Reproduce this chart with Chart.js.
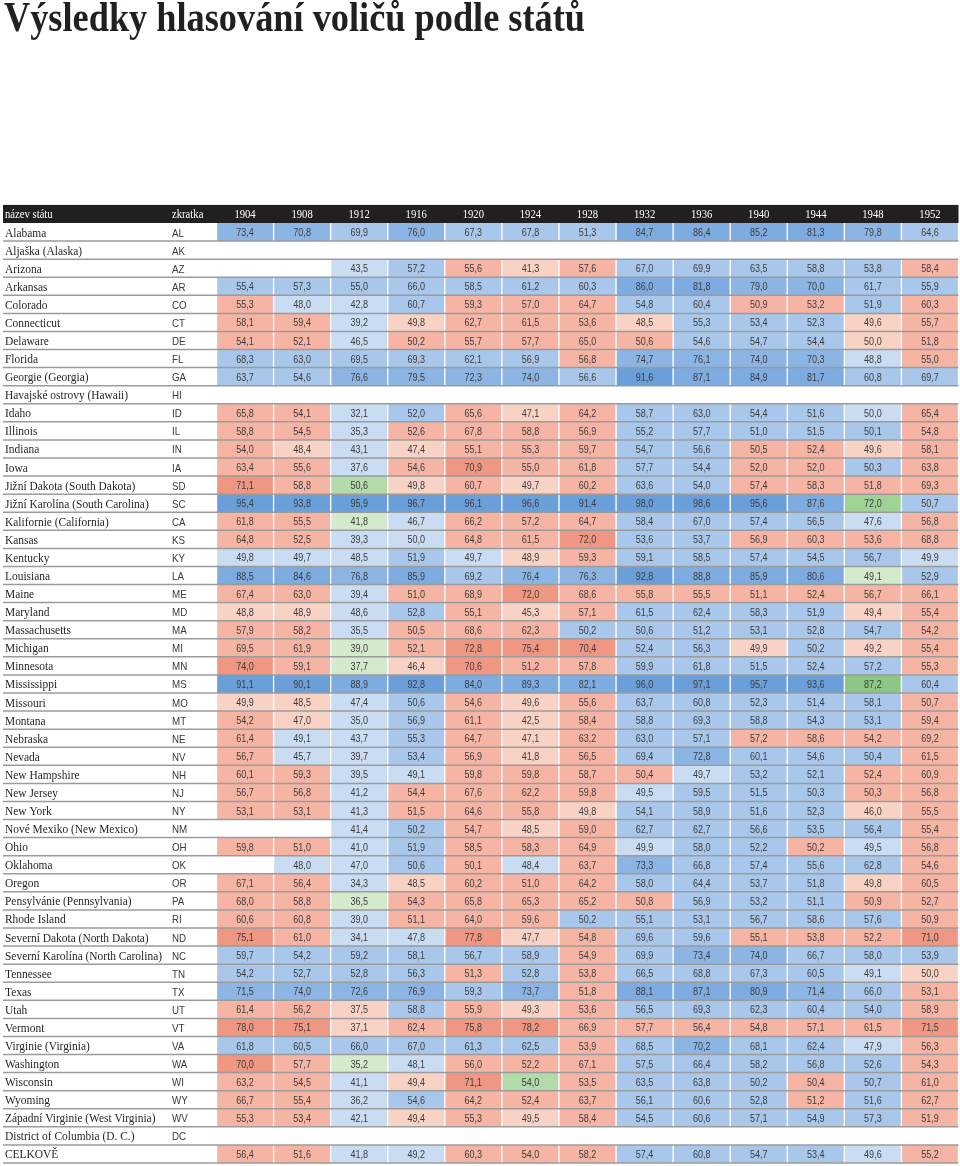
<!DOCTYPE html>
<html lang="cs">
<head>
<meta charset="utf-8">
<title>Výsledky hlasování voličů podle států</title>
<script src="https://cdn.jsdelivr.net/npm/chart.js@4.4.1/dist/chart.umd.min.js"></script>
<style>
  html, body { margin: 0; padding: 0; background: #fff; }
  canvas { display: block; }
</style>
</head>
<body>
<canvas id="grid" width="960" height="1166"></canvas>
<script>
const title = 'Výsledky hlasování voličů podle států';

const years = [1904, 1908, 1912, 1916, 1920, 1924, 1928, 1932, 1936, 1940, 1944, 1948, 1952];

const states = [
  'Alabama', 'Aljaška (Alaska)', 'Arizona', 'Arkansas', 'Colorado', 'Connecticut', 'Delaware',
  'Florida', 'Georgie (Georgia)', 'Havajské ostrovy (Hawaii)', 'Idaho', 'Illinois', 'Indiana', 'Iowa',
  'Jižní Dakota (South Dakota)', 'Jižní Karolína (South Carolina)', 'Kalifornie (California)', 'Kansas',
  'Kentucky', 'Louisiana', 'Maine', 'Maryland', 'Massachusetts', 'Michigan', 'Minnesota', 'Mississippi',
  'Missouri', 'Montana', 'Nebraska', 'Nevada', 'New Hampshire', 'New Jersey', 'New York',
  'Nové Mexiko (New Mexico)', 'Ohio', 'Oklahoma', 'Oregon', 'Pensylvánie (Pennsylvania)', 'Rhode Island',
  'Severní Dakota (North Dakota)', 'Severní Karolína (North Carolina)', 'Tennessee', 'Texas', 'Utah',
  'Vermont', 'Virginie (Virginia)', 'Washington', 'Wisconsin', 'Wyoming', 'Západní Virginie (West Virginia)',
  'District of Columbia (D. C.)', 'CELKOVĚ'
];

const abbrs = [
  'AL', 'AK', 'AZ', 'AR', 'CO', 'CT', 'DE', 'FL', 'GA', 'HI', 'ID', 'IL', 'IN', 'IA', 'SD', 'SC', 'CA', 'KS',
  'KY', 'LA', 'ME', 'MD', 'MA', 'MI', 'MN', 'MS', 'MO', 'MT', 'NE', 'NV', 'NH', 'NJ', 'NY', 'NM', 'OH', 'OK',
  'OR', 'PA', 'RI', 'ND', 'NC', 'TN', 'TX', 'UT', 'VT', 'VA', 'WA', 'WI', 'WY', 'WV', 'DC', ''
];

// winning share in %, one row per state, null = no vote
const results = [
  [73.4, 70.8, 69.9, 76.0, 67.3, 67.8, 51.3, 84.7, 86.4, 85.2, 81.3, 79.8, 64.6],
  [null, null, null, null, null, null, null, null, null, null, null, null, null],
  [null, null, 43.5, 57.2, 55.6, 41.3, 57.6, 67.0, 69.9, 63.5, 58.8, 53.8, 58.4],
  [55.4, 57.3, 55.0, 66.0, 58.5, 61.2, 60.3, 86.0, 81.8, 79.0, 70.0, 61.7, 55.9],
  [55.3, 48.0, 42.8, 60.7, 59.3, 57.0, 64.7, 54.8, 60.4, 50.9, 53.2, 51.9, 60.3],
  [58.1, 59.4, 39.2, 49.8, 62.7, 61.5, 53.6, 48.5, 55.3, 53.4, 52.3, 49.6, 55.7],
  [54.1, 52.1, 46.5, 50.2, 55.7, 57.7, 65.0, 50.6, 54.6, 54.7, 54.4, 50.0, 51.8],
  [68.3, 63.0, 69.5, 69.3, 62.1, 56.9, 56.8, 74.7, 76.1, 74.0, 70.3, 48.8, 55.0],
  [63.7, 54.6, 76.6, 79.5, 72.3, 74.0, 56.6, 91.6, 87.1, 84.9, 81.7, 60.8, 69.7],
  [null, null, null, null, null, null, null, null, null, null, null, null, null],
  [65.8, 54.1, 32.1, 52.0, 65.6, 47.1, 64.2, 58.7, 63.0, 54.4, 51.6, 50.0, 65.4],
  [58.8, 54.5, 35.3, 52.6, 67.8, 58.8, 56.9, 55.2, 57.7, 51.0, 51.5, 50.1, 54.8],
  [54.0, 48.4, 43.1, 47.4, 55.1, 55.3, 59.7, 54.7, 56.6, 50.5, 52.4, 49.6, 58.1],
  [63.4, 55.6, 37.6, 54.6, 70.9, 55.0, 61.8, 57.7, 54.4, 52.0, 52.0, 50.3, 63.8],
  [71.1, 58.8, 50.6, 49.8, 60.7, 49.7, 60.2, 63.6, 54.0, 57.4, 58.3, 51.8, 69.3],
  [95.4, 93.8, 95.9, 96.7, 96.1, 96.6, 91.4, 98.0, 98.6, 95.6, 87.6, 72.0, 50.7],
  [61.8, 55.5, 41.8, 46.7, 66.2, 57.2, 64.7, 58.4, 67.0, 57.4, 56.5, 47.6, 56.8],
  [64.8, 52.5, 39.3, 50.0, 64.8, 61.5, 72.0, 53.6, 53.7, 56.9, 60.3, 53.6, 68.8],
  [49.8, 49.7, 48.5, 51.9, 49.7, 48.9, 59.3, 59.1, 58.5, 57.4, 54.5, 56.7, 49.9],
  [88.5, 84.6, 76.8, 85.9, 69.2, 76.4, 76.3, 92.8, 88.8, 85.9, 80.6, 49.1, 52.9],
  [67.4, 63.0, 39.4, 51.0, 68.9, 72.0, 68.6, 55.8, 55.5, 51.1, 52.4, 56.7, 66.1],
  [48.8, 48.9, 48.6, 52.8, 55.1, 45.3, 57.1, 61.5, 62.4, 58.3, 51.9, 49.4, 55.4],
  [57.9, 58.2, 35.5, 50.5, 68.6, 62.3, 50.2, 50.6, 51.2, 53.1, 52.8, 54.7, 54.2],
  [69.5, 61.9, 39.0, 52.1, 72.8, 75.4, 70.4, 52.4, 56.3, 49.9, 50.2, 49.2, 55.4],
  [74.0, 59.1, 37.7, 46.4, 70.6, 51.2, 57.8, 59.9, 61.8, 51.5, 52.4, 57.2, 55.3],
  [91.1, 90.1, 88.9, 92.8, 84.0, 89.3, 82.1, 96.0, 97.1, 95.7, 93.6, 87.2, 60.4],
  [49.9, 48.5, 47.4, 50.6, 54.6, 49.6, 55.6, 63.7, 60.8, 52.3, 51.4, 58.1, 50.7],
  [54.2, 47.0, 35.0, 56.9, 61.1, 42.5, 58.4, 58.8, 69.3, 58.8, 54.3, 53.1, 59.4],
  [61.4, 49.1, 43.7, 55.3, 64.7, 47.1, 63.2, 63.0, 57.1, 57.2, 58.6, 54.2, 69.2],
  [56.7, 45.7, 39.7, 53.4, 56.9, 41.8, 56.5, 69.4, 72.8, 60.1, 54.6, 50.4, 61.5],
  [60.1, 59.3, 39.5, 49.1, 59.8, 59.8, 58.7, 50.4, 49.7, 53.2, 52.1, 52.4, 60.9],
  [56.7, 56.8, 41.2, 54.4, 67.6, 62.2, 59.8, 49.5, 59.5, 51.5, 50.3, 50.3, 56.8],
  [53.1, 53.1, 41.3, 51.5, 64.6, 55.8, 49.8, 54.1, 58.9, 51.6, 52.3, 46.0, 55.5],
  [null, null, 41.4, 50.2, 54.7, 48.5, 59.0, 62.7, 62.7, 56.6, 53.5, 56.4, 55.4],
  [59.8, 51.0, 41.0, 51.9, 58.5, 58.3, 64.9, 49.9, 58.0, 52.2, 50.2, 49.5, 56.8],
  [null, 48.0, 47.0, 50.6, 50.1, 48.4, 63.7, 73.3, 66.8, 57.4, 55.6, 62.8, 54.6],
  [67.1, 56.4, 34.3, 48.5, 60.2, 51.0, 64.2, 58.0, 64.4, 53.7, 51.8, 49.8, 60.5],
  [68.0, 58.8, 36.5, 54.3, 65.8, 65.3, 65.2, 50.8, 56.9, 53.2, 51.1, 50.9, 52.7],
  [60.6, 60.8, 39.0, 51.1, 64.0, 59.6, 50.2, 55.1, 53.1, 56.7, 58.6, 57.6, 50.9],
  [75.1, 61.0, 34.1, 47.8, 77.8, 47.7, 54.8, 69.6, 59.6, 55.1, 53.8, 52.2, 71.0],
  [59.7, 54.2, 59.2, 58.1, 56.7, 58.9, 54.9, 69.9, 73.4, 74.0, 66.7, 58.0, 53.9],
  [54.2, 52.7, 52.8, 56.3, 51.3, 52.8, 53.8, 66.5, 68.8, 67.3, 60.5, 49.1, 50.0],
  [71.5, 74.0, 72.6, 76.9, 59.3, 73.7, 51.8, 88.1, 87.1, 80.9, 71.4, 66.0, 53.1],
  [61.4, 56.2, 37.5, 58.8, 55.9, 49.3, 53.6, 56.5, 69.3, 62.3, 60.4, 54.0, 58.9],
  [78.0, 75.1, 37.1, 62.4, 75.8, 78.2, 66.9, 57.7, 56.4, 54.8, 57.1, 61.5, 71.5],
  [61.8, 60.5, 66.0, 67.0, 61.3, 62.5, 53.9, 68.5, 70.2, 68.1, 62.4, 47.9, 56.3],
  [70.0, 57.7, 35.2, 48.1, 56.0, 52.2, 67.1, 57.5, 66.4, 58.2, 56.8, 52.6, 54.3],
  [63.2, 54.5, 41.1, 49.4, 71.1, 54.0, 53.5, 63.5, 63.8, 50.2, 50.4, 50.7, 61.0],
  [66.7, 55.4, 36.2, 54.6, 64.2, 52.4, 63.7, 56.1, 60.6, 52.8, 51.2, 51.6, 62.7],
  [55.3, 53.4, 42.1, 49.4, 55.3, 49.5, 58.4, 54.5, 60.6, 57.1, 54.9, 57.3, 51.9],
  [null, null, null, null, null, null, null, null, null, null, null, null, null],
  [56.4, 51.6, 41.8, 49.2, 60.3, 54.0, 58.2, 57.4, 60.8, 54.7, 53.4, 49.6, 55.2]
];

// winner per cell: D = demokraté (modrá), R = republikáni (červená), P = třetí strana (zelená)
const winners = [
  'DDDDDDDDDDDDD', '-------------', '--DDRRRDDDDDR', 'DDDDDDDDDDDDD', 'RDDDRRRDDRRDR',
  'RRDRRRRRDDDRR', 'RRDRRRRRDDDRR', 'DDDDDDRDDDDDR', 'DDDDDDDDDDDDD', '-------------',
  'RRDDRRRDDDDDR', 'RRDRRRRDDDDDR', 'RRDRRRRDDRRRR', 'RRDRRRRDDRRDR', 'RRPRRRRDDRRRR',
  'DDDDDDDDDDDPD', 'RRPDRRRDDDDDR', 'RRDDRRRDDRRRR', 'DDDDDRRDDDDDD', 'DDDDDDDDDDDPD',
  'RRDRRRRRRRRRR', 'RRDDRRRDDDDRR', 'RRDRRRDDDDDDR', 'RRPRRRRDDRDRR', 'RRPRRRRDDDDDR',
  'DDDDDDDDDDDPD', 'RRDDRRRDDDDDR', 'RRDDRRRDDDDDR', 'RDDDRRRDDRRRR', 'RDDDRRRDDDDDR',
  'RRDDRRRRDDDRR', 'RRDRRRRDDDDRR', 'RRDRRRRDDDDRR', '--DDRRRDDDDDR', 'RRDDRRRDDDRDR',
  '-DDDRDRDDDDDR', 'RRDRRRRDDDDRR', 'RRPRRRRRDDDRR', 'RRDRRRDDDDDDR', 'RRDDRRRDDRRRR',
  'DDDDDDRDDDDDD', 'DDDDRDRDDDDDR', 'DDDDDDRDDDDDR', 'RRRDRRRDDDDDR', 'RRRRRRRRRRRRR',
  'DDDDDDRDDDDDR', 'RRPDRRRDDDDDR', 'RRDRRPRDDDRDR', 'RRDDRRRDDDRDR', 'RRDRRRRDDDDDR',
  '-------------', 'RRDDRRRDDDDDR'
];

const palette = {
  D: ['#c9dcf2', '#a9c7eb', '#8db5e4', '#7eabe0', '#6a9fda'],
  R: ['#f9d2c6', '#f5b4a4', '#ef9782', '#ef9782', '#ef9782'],
  P: ['#d3eacc', '#b3dba9', '#a0d296', '#8cc883', '#8cc883']
};

function cellColor(party, v) {
  let level = v <= 50 ? 0 : v < 70 ? 1 : v < 80 ? 2 : v < 90 ? 3 : 4;
  return palette[party][level];
}

function fmt(v) {
  return v.toFixed(1).replace('.', ',');
}

function squeezeText(ctx, text, x, y, sx, align) {
  ctx.save();
  ctx.translate(x, y);
  ctx.scale(sx, 1);
  ctx.textAlign = align || 'left';
  ctx.fillText(text, 0, 0);
  ctx.restore();
}

const datasets = years.map((year, c) => ({
  label: String(year),
  data: results.map(row => row[c] == null ? null : [c, c + 1]),
  backgroundColor: results.map((row, r) => row[c] == null ? 'rgba(0,0,0,0)' : cellColor(winners[r][c], row[c])),
  borderColor: '#ffffff',
  borderWidth: { left: 1, right: 1, top: 0, bottom: 0 },
  borderSkipped: false,
  barPercentage: 1,
  categoryPercentage: 1,
  grouped: false
}));

const tablePlugin = {
  id: 'tablePlugin',
  afterDatasetsDraw(chart) {
    const { ctx, chartArea: area, scales: { x, y } } = chart;
    const rowH = y.getPixelForValue(1) - y.getPixelForValue(0);
    const left = 3;

    // title
    ctx.save();
    ctx.fillStyle = '#231f20';
    ctx.textBaseline = 'alphabetic';
    ctx.font = 'bold 42px "Liberation Serif", serif';
    const tw = ctx.measureText(title).width;
    squeezeText(ctx, title, 4, 31, 581 / tw);

    // header bar
    const hTop = area.top - rowH;
    ctx.fillStyle = '#231f20';
    ctx.fillRect(left, hTop, area.right - left, rowH);
    ctx.fillStyle = '#ffffff';
    ctx.font = '13px "Liberation Serif", serif';
    const hy = hTop + rowH / 2 + 4.5;
    squeezeText(ctx, 'název státu', 5, hy, 0.82);
    squeezeText(ctx, 'zkratka', 172, hy, 0.82);
    years.forEach((yr, c) => {
      squeezeText(ctx, String(yr), x.getPixelForValue(c + 0.5), hy, 0.82, 'center');
    });

    // row separators
    ctx.strokeStyle = '#9b9b9b';
    ctx.lineWidth = 1.5;
    states.forEach((s, i) => {
      const yb = y.getPixelForValue(i) + rowH / 2;
      ctx.beginPath();
      ctx.moveTo(left, yb);
      ctx.lineTo(area.right, yb);
      ctx.stroke();
    });

    // state names and abbreviations
    ctx.font = '13px "Liberation Serif", serif';
    const longest = Math.max(...states.map(s => ctx.measureText(s).width));
    const nameScale = 157 / longest;
    states.forEach((s, i) => {
      const yc = y.getPixelForValue(i) + 4.5;
      ctx.fillStyle = '#231f20';
      ctx.font = '13px "Liberation Serif", serif';
      squeezeText(ctx, s, 5, yc, nameScale);
      ctx.fillStyle = '#3a3a3a';
      ctx.font = '11.5px "Liberation Sans", sans-serif';
      squeezeText(ctx, abbrs[i], 172, yc, 0.85);
    });

    // values inside cells
    ctx.fillStyle = '#3d3d3d';
    ctx.font = '11px "Liberation Sans", sans-serif';
    chart.data.datasets.forEach((ds, c) => {
      chart.getDatasetMeta(c).data.forEach((bar, r) => {
        const v = results[r][c];
        if (v == null) return;
        squeezeText(ctx, fmt(v), (bar.x + bar.base) / 2, bar.y + 4, 0.82, 'center');
      });
    });
    ctx.restore();
  }
};

new Chart(document.getElementById('grid'), {
  type: 'bar',
  data: { labels: states, datasets: datasets },
  options: {
    indexAxis: 'y',
    responsive: false,
    animation: false,
    layout: { padding: { left: 216.5, right: 1.5, top: 223, bottom: 3 } },
    scales: {
      x: { type: 'linear', min: 0, max: 13, display: false },
      y: { type: 'category', display: false, offset: true }
    },
    plugins: {
      legend: { display: false },
      tooltip: { enabled: false },
      title: { display: false }
    }
  },
  plugins: [tablePlugin]
});
</script>
</body>
</html>
